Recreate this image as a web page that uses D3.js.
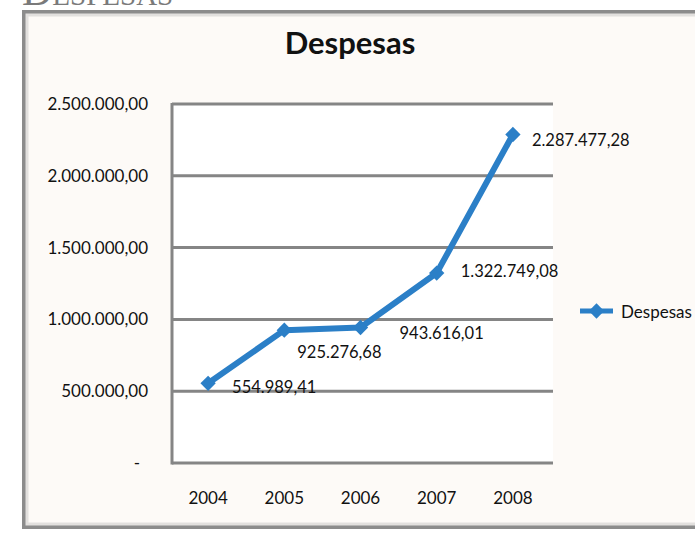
<!DOCTYPE html>
<html>
<head>
<meta charset="utf-8">
<script src="https://cdn.jsdelivr.net/npm/d3@7.9.0/dist/d3.min.js"></script>
<style>
  html, body { margin: 0; padding: 0; background: #fff; }
  svg { display: block; }
</style>
</head>
<body>
<svg id="chart" width="695" height="535"></svg>
<script>
// Data
const years = ["2004", "2005", "2006", "2007", "2008"];
const despesas = [554989.41, 925276.68, 943616.01, 1322749.08, 2287477.28];
const yTicks = [0, 500000, 1000000, 1500000, 2000000, 2500000];
const seriesName = "Despesas";
const titleText = "Despesas";
const pageHeading = "Despesas";

// label nudges (layout only)
const labelDx = [24, 13, 39, 24, 19];
const labelDy = [4, 22, 6, -2, 5];

const blue = "#2b7fc7";
const grid = "#858585";
const font = "Lato, 'Open Sans', sans-serif";

const br = d3.formatLocale({ decimal: ",", thousands: ".", grouping: [3], currency: ["", ""] });
const fmt = br.format(",.2f");
const fmtTick = v => v === 0 ? "-" : fmt(v);

const svg = d3.select("#chart");

// page heading above the frame, cut off by the top edge as in the screenshot
svg.append("text")
  .attr("x", 22).attr("y", 5)
  .attr("font-family", "'Liberation Serif', serif")
  .attr("font-size", 42)
  .attr("font-variant", "small-caps")
  .attr("fill", "#7a7a7a")
  .text(pageHeading);

// chart frame
svg.append("rect")
  .attr("x", 24).attr("y", 12)
  .attr("width", 700).attr("height", 515)
  .attr("fill", "#fdfaf7")
  .attr("stroke", "#8c8c8c").attr("stroke-width", 4);
svg.append("rect")
  .attr("x", 27).attr("y", 15)
  .attr("width", 700).attr("height", 509)
  .attr("fill", "none")
  .attr("stroke", "#e2e0de").attr("stroke-width", 3);

// scales
const x = d3.scaleBand().domain(years).range([170, 551]).padding(0);
const y = d3.scaleLinear().domain([0, 2500000]).range([463, 104]);
const cx = d => x(d) + x.bandwidth() / 2;

// plot area
svg.append("rect")
  .attr("x", 172).attr("y", y(2500000))
  .attr("width", 381).attr("height", y(0) - y(2500000))
  .attr("fill", "#fff");

// title
svg.append("text")
  .attr("x", 350).attr("y", 54)
  .attr("text-anchor", "middle")
  .attr("font-family", font)
  .attr("font-weight", "bold")
  .attr("font-size", 31)
  .attr("fill", "#111")
  .text(titleText);

// gridlines
svg.append("g")
  .selectAll("line")
  .data(yTicks)
  .join("line")
  .attr("x1", 172).attr("x2", 553)
  .attr("y1", d => y(d)).attr("y2", d => y(d))
  .attr("stroke", grid).attr("stroke-width", 3);

// y axis line
svg.append("line")
  .attr("x1", 172).attr("x2", 172)
  .attr("y1", y(2500000) - 1).attr("y2", y(0) + 1.5)
  .attr("stroke", grid).attr("stroke-width", 3);

// y axis labels
const yAxis = d3.axisLeft(y).tickValues(yTicks).tickFormat(fmtTick).tickSize(0).tickPadding(0);
const gy = svg.append("g").attr("transform", "translate(148,0)").call(yAxis);
gy.select(".domain").remove();
gy.selectAll("text")
  .attr("font-family", font)
  .attr("font-size", 17)
  .attr("fill", "#111");
gy.selectAll(".tick").filter(d => d === 0).select("text").attr("dx", -8);

// x axis labels
const xAxis = d3.axisBottom(x).tickSize(0).tickPadding(0);
const gx = svg.append("g").attr("transform", "translate(0,492)").call(xAxis);
gx.select(".domain").remove();
gx.selectAll("text")
  .attr("font-family", font)
  .attr("font-size", 17)
  .attr("fill", "#111");

// series line
const line = d3.line().x((d, i) => cx(years[i])).y(d => y(d));
svg.append("path")
  .datum(despesas)
  .attr("d", line)
  .attr("fill", "none")
  .attr("stroke", blue)
  .attr("stroke-width", 6)
  .attr("stroke-linejoin", "round");

// markers
const diamond = d3.symbol().type(d3.symbolDiamond2).size(150);
svg.append("g")
  .selectAll("path")
  .data(despesas)
  .join("path")
  .attr("d", diamond)
  .attr("transform", (d, i) => `translate(${cx(years[i])},${y(d)})`)
  .attr("fill", blue);

// data labels
svg.append("g")
  .selectAll("text")
  .data(despesas)
  .join("text")
  .attr("x", (d, i) => cx(years[i]) + labelDx[i])
  .attr("y", (d, i) => y(d) + labelDy[i])
  .attr("dominant-baseline", "central")
  .attr("font-family", font)
  .attr("font-size", 16.5)
  .attr("fill", "#111")
  .text(d => fmt(d));

// legend
const lg = svg.append("g").attr("transform", "translate(580,311)");
lg.append("line")
  .attr("x1", 0).attr("x2", 33).attr("y1", 0).attr("y2", 0)
  .attr("stroke", blue).attr("stroke-width", 5);
lg.append("path")
  .attr("d", diamond)
  .attr("transform", "translate(16.5,0)")
  .attr("fill", blue);
lg.append("text")
  .attr("x", 41).attr("y", 0)
  .attr("dominant-baseline", "central")
  .attr("font-family", font)
  .attr("font-size", 17)
  .attr("fill", "#111")
  .text(seriesName);
</script>
</body>
</html>
